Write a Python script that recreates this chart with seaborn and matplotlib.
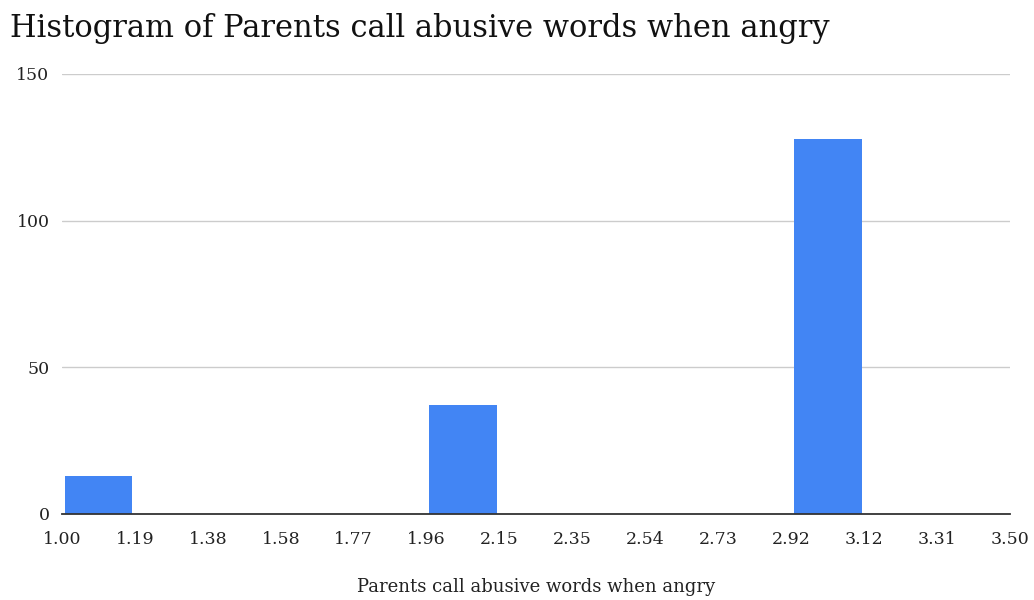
import numpy as np
import matplotlib
matplotlib.use("Agg")
import matplotlib.pyplot as plt
import seaborn as sns

# Histogram bins (left edges) and counts
bin_edges = [1.00, 1.1923, 1.3846, 1.5769, 1.7692, 1.9615, 2.1538, 2.3462,
             2.5385, 2.7308, 2.9231, 3.1154, 3.3077, 3.50]
counts = [13, 0, 0, 0, 0, 37, 0, 0, 0, 0, 128, 0, 0]
tick_labels = ["1.00", "1.19", "1.38", "1.58", "1.77", "1.96", "2.15",
               "2.35", "2.54", "2.73", "2.92", "3.12", "3.31", "3.50"]
y_ticks = [0, 50, 100, 150]

title = "Histogram of Parents call abusive words when angry"
x_label = "Parents call abusive words when angry"

sns.set_theme(style="white")
plt.rcParams["font.family"] = ["DejaVu Serif"]

fig = plt.figure(figsize=(10.34, 6.0), dpi=100)
ax = fig.add_axes([62 / 1034, 86 / 600, (1010 - 62) / 1034, (514 - 74) / 600])

centers = [(a + b) / 2 for a, b in zip(bin_edges[:-1], bin_edges[1:])]
sns.histplot(x=centers, weights=counts, bins=bin_edges, shrink=0.93,
             color="#4285f4", alpha=1.0, edgecolor="none", linewidth=0, ax=ax)

ax.set_xlim(1.0, 3.5)
ax.set_ylim(0, 150)
ax.set_xticks(bin_edges)
ax.set_xticklabels(tick_labels, fontsize=12.5, color="#222222")
ax.set_yticks(y_ticks)
ax.set_yticklabels([str(v) for v in y_ticks], fontsize=12.5, color="#222222")
ax.tick_params(axis="x", length=0, pad=12)
ax.tick_params(axis="y", length=0, pad=9)
ax.yaxis.grid(True, color="#cccccc", linewidth=1)
ax.set_axisbelow(True)
for side in ["top", "right", "left"]:
    ax.spines[side].set_visible(False)
ax.spines["bottom"].set_color("#333333")
ax.spines["bottom"].set_linewidth(1.3)
ax.set_zorder(1)

ax.set_ylabel("")
ax.set_xlabel(x_label, fontsize=13, color="#222222", labelpad=22)

fig.text(10 / 1034, 1 - 37 / 600, title, fontsize=22, color="#111111",
         ha="left", va="baseline")

fig.savefig("out.png", dpi=100, facecolor="white")
